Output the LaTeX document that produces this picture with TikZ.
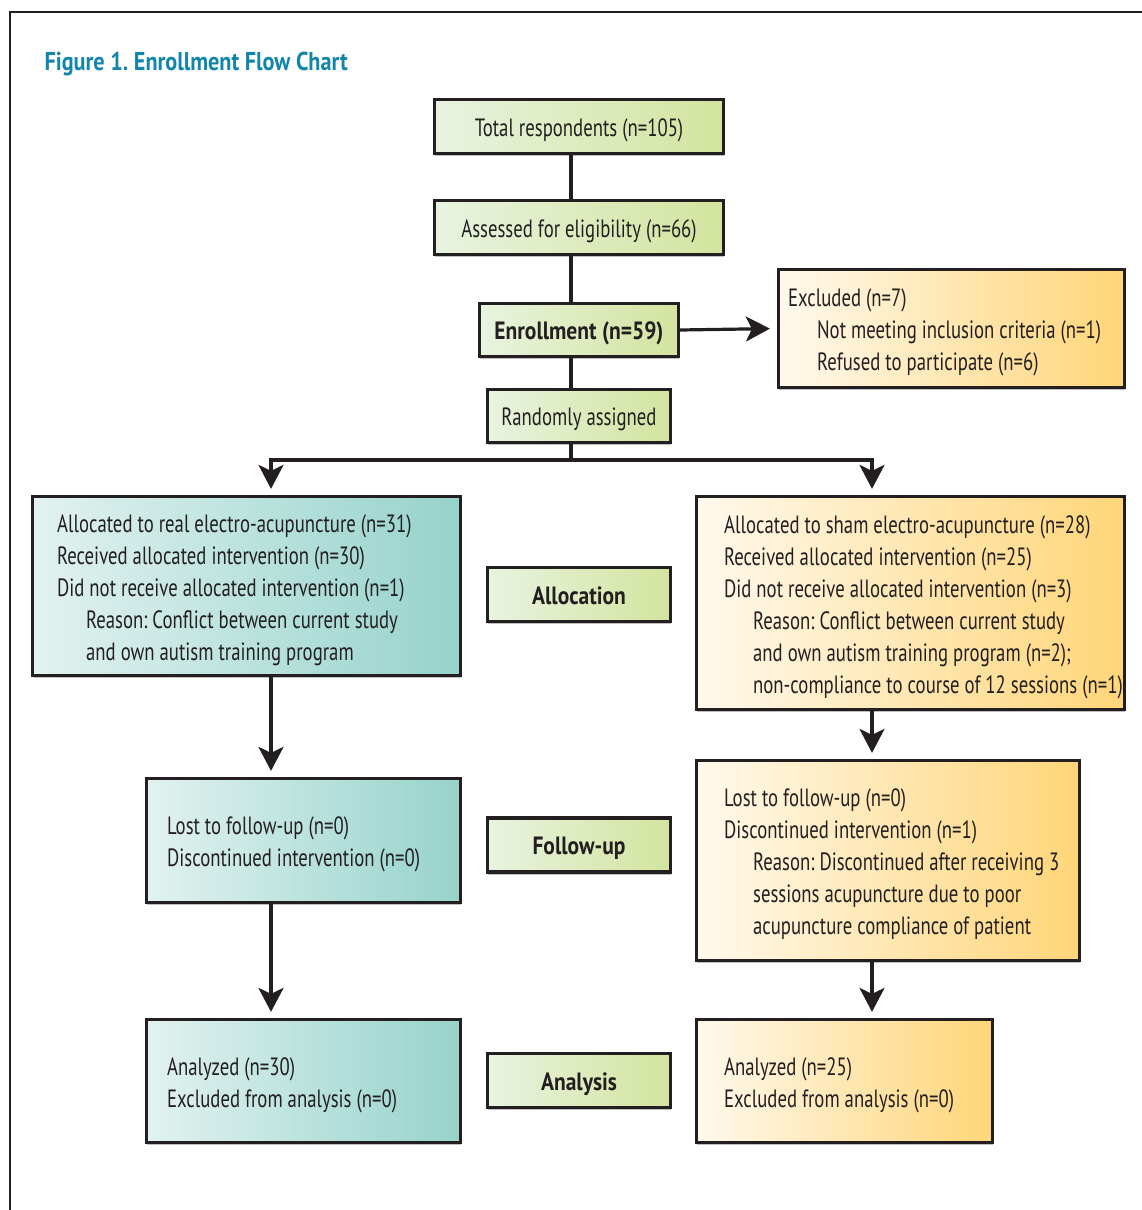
\documentclass[tikz,border=0pt]{standalone}
\usepackage{fontspec}
\setmainfont{PT Sans}[FakeStretch=0.75]
\newfontfamily\headfont{PT Sans}[FakeStretch=0.86]
\usetikzlibrary{arrows.meta,shadows}
\definecolor{inkgray}{RGB}{35,31,32}
\definecolor{titleblue}{RGB}{18,133,170}
\definecolor{greenL}{RGB}{232,243,224}
\definecolor{greenR}{RGB}{211,228,158}
\definecolor{tealL}{RGB}{226,242,240}
\definecolor{tealR}{RGB}{150,211,203}
\definecolor{orangeL}{RGB}{255,249,237}
\definecolor{orangeR}{RGB}{255,213,120}
\newcommand{\ind}{\hspace*{29pt}}
\frenchspacing

\begin{document}
\begin{tikzpicture}[x=1pt,y=-1pt,
    every node/.style={text=inkgray,font=\fontsize{25}{32}\selectfont},
    box/.style={draw=inkgray,line width=3.2pt,inner sep=0pt,
      drop shadow={shadow xshift=0pt,shadow yshift=-2.5pt,fill=black!50}},
    greenbox/.style={box,left color=greenL,right color=greenR,text height=19pt,text depth=0pt},
    headbox/.style={greenbox,font=\fontsize{25}{32}\headfont\bfseries},
    tealbox/.style={box,left color=tealL,right color=tealR},
    orangebox/.style={box,left color=orangeL,right color=orangeR},
    lines/.style={align=left,inner sep=0pt,anchor=west,yshift=-4pt},
    link/.style={draw=inkgray,line width=3.2pt},
    arrow/.style={link,-{Stealth[length=24pt,width=25pt,inset=6pt]},shorten >=6pt}]
  \useasboundingbox (0,0) rectangle (1142,1210);
  \draw[inkgray,line width=1.5pt] (10,1210) -- (10,12) -- (1142,12);

  \node[anchor=base west,text=titleblue,font=\fontsize{25.8}{32}\headfont\bfseries] (title) at (41,70) {Figure 1. Enrollment Flow Chart};

  % top column
  \node[greenbox,minimum width=289pt,minimum height=54pt] (total) at (579,126.5) {Total respondents (n=105)};
  \node[greenbox,minimum width=289pt,minimum height=54pt] (assess) at (579,227.5) {Assessed for eligibility (n=66)};
  \node[headbox,minimum width=199pt,minimum height=53pt] (enroll) at (579,330) {Enrollment (n=59)};
  \node[greenbox,minimum width=183pt,minimum height=53pt] (rand) at (579,416) {Randomly assigned};

  \node[orangebox,minimum width=346pt,minimum height=118pt] (excl) at (951.5,328.5) {};
  \node[lines] (excltxt) at ([xshift=11pt]excl.west) {Excluded (n=7)\\\ind Not meeting inclusion criteria (n=1)\\\ind Refused to participate (n=6)};

  % stage labels
  \node[headbox,minimum width=183pt,minimum height=54pt] (allocLab) at (579,594.5) {Allocation};
  \node[headbox,minimum width=183pt,minimum height=54pt] (fupLab) at (579,845) {Follow-up};
  \node[headbox,minimum width=183pt,minimum height=54pt] (anaLab) at (579,1080.5) {Analysis};

  % real arm
  \node[tealbox,minimum width=428pt,minimum height=179pt] (alloc1) at (246.5,586) {};
  \node[lines] (alloc1txt) at ([xshift=26pt]alloc1.west) {Allocated to real electro-acupuncture (n=31)\\Received allocated intervention (n=30)\\Did not receive allocated intervention (n=1)\\\ind Reason: Conflict between current study\\\ind and own autism training program};
  \node[tealbox,minimum width=314pt,minimum height=124pt] (fup1) at (303.5,840.5) {};
  \node[lines] (fup1txt) at ([xshift=22pt]fup1.west) {Lost to follow-up (n=0)\\Discontinued intervention (n=0)};
  \node[tealbox,minimum width=314pt,minimum height=123pt] (ana1) at (303.5,1081) {};
  \node[lines] (ana1txt) at ([xshift=22pt]ana1.west) {Analyzed (n=30)\\Excluded from analysis (n=0)};

  % sham arm
  \node[orangebox,minimum width=428pt,minimum height=213pt] (alloc2) at (910.5,603) {};
  \node[lines] (alloc2txt) at ([xshift=29pt]alloc2.west) {Allocated to sham electro-acupuncture (n=28)\\Received allocated intervention (n=25)\\Did not receive allocated intervention (n=3)\\\ind Reason: Conflict between current study\\\ind and own autism training program (n=2);\\\ind non-compliance to course of 12 sessions (n=1)};
  \node[orangebox,minimum width=383pt,minimum height=200pt] (fup2) at (888,860.5) {};
  \node[lines] (fup2txt) at ([xshift=29pt]fup2.west) {Lost to follow-up (n=0)\\Discontinued intervention (n=1)\\\ind Reason: Discontinued after receiving 3\\\ind sessions acupuncture due to poor\\\ind acupuncture compliance of patient};
  \node[orangebox,minimum width=296pt,minimum height=123pt] (ana2) at (844.5,1081) {};
  \node[lines] (ana2txt) at ([xshift=29pt]ana2.west) {Analyzed (n=25)\\Excluded from analysis (n=0)};

  % connectors
  \coordinate (split) at (571,460);
  \coordinate (colL) at (271,460);
  \coordinate (colR) at (872,460);
  \draw[link] ([xshift=-8pt]total.south) -- ([xshift=-8pt]assess.north);
  \draw[link] ([xshift=-8pt]assess.south) -- ([xshift=-8pt]enroll.north);
  \draw[link] ([xshift=-8pt]enroll.south) -- ([xshift=-8pt]rand.north);
  \draw[link] ([xshift=-8pt]rand.south) -- (split);
  \draw[arrow,shorten >=7pt] (enroll.east) -- (excl.west);
  \draw[arrow] (split) -- (colL) -- (colL |- alloc1.north);
  \draw[arrow] (split) -- (colR) -- (colR |- alloc2.north);
  \draw[arrow] (colL |- alloc1.south) -- (colL |- fup1.north);
  \draw[arrow] (colR |- alloc2.south) -- (colR |- fup2.north);
  \draw[arrow] (colL |- fup1.south) -- (colL |- ana1.north);
  \draw[arrow] (colR |- fup2.south) -- (colR |- ana2.north);
\end{tikzpicture}
\end{document}
